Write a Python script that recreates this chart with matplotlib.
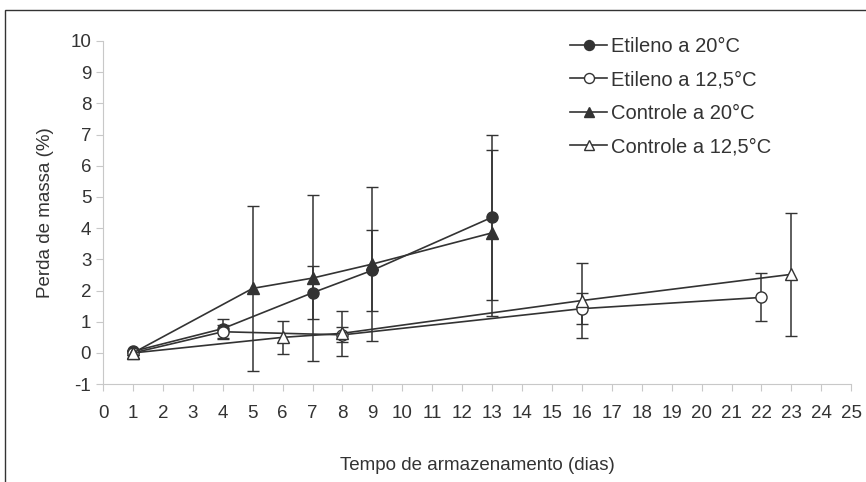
import matplotlib.pyplot as plt
from matplotlib.patches import Rectangle

plt.rcParams['font.family'] = ['Liberation Sans', 'DejaVu Sans']
plt.rcParams['axes.unicode_minus'] = False

# Perda de massa (%) ao longo do armazenamento
x_et20 = [1, 4, 7, 9, 13]
y_et20 = [0.05, 0.78, 1.93, 2.65, 4.35]
e_et20 = [0.05, 0.3, 0.85, 1.3, 2.65]

x_et12 = [1, 4, 8, 16, 22]
y_et12 = [0.0, 0.68, 0.58, 1.42, 1.78]
e_et12 = [0.05, 0.22, 0.24, 0.5, 0.77]

x_co20 = [1, 5, 7, 9, 13]
y_co20 = [0.0, 2.07, 2.4, 2.85, 3.85]
e_co20 = [0.05, 2.65, 2.65, 2.47, 2.65]

x_co12 = [1, 6, 8, 16, 23]
y_co12 = [0.0, 0.5, 0.63, 1.68, 2.52]
e_co12 = [0.05, 0.52, 0.72, 1.2, 1.97]

labels = ['Etileno a 20°C', 'Etileno a 12,5°C', 'Controle a 20°C', 'Controle a 12,5°C']

fig = plt.figure(figsize=(8.66, 4.82), dpi=100)
ax = fig.add_axes([0.119, 0.203, 0.864, 0.712])

c = '#333333'
series = [
    (x_et20, y_et20, e_et20, 'o', c),
    (x_et12, y_et12, e_et12, 'o', 'white'),
    (x_co20, y_co20, e_co20, '^', c),
    (x_co12, y_co12, e_co12, '^', 'white'),
]
handles = []
for (xs, ys, es, m, fc), lab in zip(series, labels):
    cont = ax.errorbar(xs, ys, yerr=es, color=c, lw=1.2, elinewidth=1.1, capsize=4,
                       capthick=1.1, marker=m, markersize=8, markerfacecolor=fc,
                       markeredgecolor=c, markeredgewidth=1.0, label=lab)
    handles.append(cont[0])

ax.set_xlim(0, 25)
ax.set_ylim(-1, 10)
ax.set_xticks(range(0, 26))
ax.set_yticks(range(-1, 11))
for s in ['top', 'right']:
    ax.spines[s].set_visible(False)
for s in ['left', 'bottom']:
    ax.spines[s].set_color('#c8c8c8')
ax.tick_params(colors='#c8c8c8', labelcolor='#333333', labelsize=13.5, length=5)
ax.tick_params(axis='x', pad=10)

ax.set_ylabel('Perda de massa (%)', fontsize=13.5, color='#333333', labelpad=12)
ax.set_xlabel('Tempo de armazenamento (dias)', fontsize=13.5, color='#333333', labelpad=25)

leg = ax.legend(handles, labels, loc='upper left', bbox_to_anchor=(0.6, 1.065),
                frameon=False, fontsize=14.5, handlelength=1.85, handletextpad=0.2,
                labelspacing=0.72, markerscale=0.9)
for t in leg.get_texts():
    t.set_color('#333333')

fig.patches.append(Rectangle((5 / 866, -0.1), 2, 1.1 - 10 / 482, transform=fig.transFigure,
                             fill=False, edgecolor='#333333', lw=1.0))

fig.savefig('out.png', dpi=100)
